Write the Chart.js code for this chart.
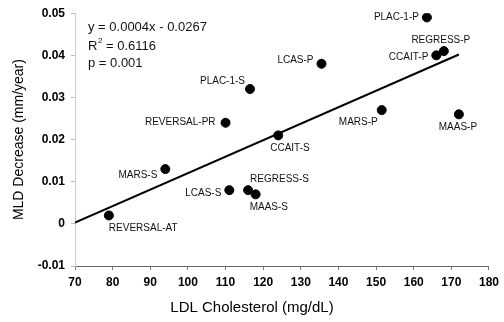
<!DOCTYPE html>
<html>
<head>
<meta charset="utf-8">
<script src="https://cdn.jsdelivr.net/npm/chart.js@4"></script>
<style>
html,body{margin:0;padding:0;background:#fff;}
#wrap{width:504px;height:322px;position:relative;}
</style>
</head>
<body>
<div id="wrap"><canvas id="c" width="504" height="322"></canvas></div>
<script>
// ---- data ----
const trialNames = ["REVERSAL-AT","MARS-S","LCAS-S","REGRESS-S","MAAS-S","CCAIT-S","REVERSAL-PR","PLAC-1-S","LCAS-P","MARS-P","PLAC-1-P","CCAIT-P","REGRESS-P","MAAS-P"];
const ldlValues = [79, 94, 111, 116, 118, 124, 110, 116.5, 135.5, 151.5, 163.5, 166, 168, 172];
const mldValues = [0.002, 0.013, 0.008, 0.008, 0.007, 0.021, 0.024, 0.032, 0.038, 0.027, 0.049, 0.040, 0.041, 0.026];
const trendX = [70, 172];
const trendY = [0.0003, 0.0402];
const xTicks = [70, 80, 90, 100, 110, 120, 130, 140, 150, 160, 170, 180];
const yTicks = [-0.01, 0, 0.01, 0.02, 0.03, 0.04, 0.05];
const equationLines = ["y = 0.0004x - 0.0267", "R2 = 0.6116", "p = 0.001"];
const xTitle = "LDL Cholesterol (mg/dL)";
const yTitle = "MLD Decrease (mm/year)";

// label placement (style): [align, dx, dy]
const labelPlacement = [
  ["left", 0, 13], ["right", -8, 6], ["right", -8, 3], ["left", 2, -11], ["left", -6, 13],
  ["left", -8, 13], ["right", -10, 0], ["right", -5, -8], ["right", -8, -4], ["right", -4, 12],
  ["right", -8, 0], ["right", -8, 2], ["center", -3, -11], ["center", -1, 13]
];

const FONT = "'Liberation Sans', Arial, Helvetica, sans-serif";

const labelPlugin = {
  id: 'pointLabels',
  afterDatasetsDraw(chart) {
    const ctx = chart.ctx;
    const meta = chart.getDatasetMeta(1);
    ctx.save();
    ctx.fillStyle = '#111';
    ctx.font = "10px " + FONT;
    ctx.textBaseline = 'middle';
    meta.data.forEach((el, i) => {
      const p = labelPlacement[i];
      ctx.textAlign = p[0];
      ctx.fillText(trialNames[i], el.x + p[1], el.y + p[2]);
    });
    // equation block
    const ca = chart.chartArea;
    ctx.textAlign = 'left';
    ctx.font = "13px " + FONT;
    const x0 = ca.left + 13;
    ctx.fillText(equationLines[0], x0, ca.top + 14);
    ctx.fillText("R", x0, ca.top + 33);
    const rw = ctx.measureText("R").width;
    ctx.font = "8px " + FONT;
    ctx.fillText("2", x0 + rw + 0.5, ca.top + 28);
    const sw = ctx.measureText("2").width;
    ctx.font = "13px " + FONT;
    ctx.fillText(" = 0.6116", x0 + rw + sw + 0.5, ca.top + 33);
    ctx.fillText(equationLines[2], x0, ca.top + 50);
    // axis titles (centered on the whole figure, as in the reference)
    ctx.fillStyle = '#000';
    ctx.textAlign = 'center';
    ctx.font = "15px " + FONT;
    ctx.fillText(xTitle, chart.width / 2, 308);
    ctx.save();
    ctx.translate(19.5, (ca.top + ca.bottom) / 2);
    ctx.rotate(-Math.PI / 2);
    ctx.font = "14px " + FONT;
    ctx.fillText(yTitle, 0, 0);
    ctx.restore();
    ctx.restore();
  }
};

new Chart(document.getElementById('c'), {
  type: 'scatter',
  data: {
    datasets: [
      {
        type: 'line',
        data: trendX.map((x, i) => ({x: x, y: trendY[i]})),
        borderColor: '#000',
        borderWidth: 2,
        pointRadius: 0,
        fill: false,
        order: 2
      },
      {
        data: ldlValues.map((x, i) => ({x: x, y: mldValues[i]})),
        backgroundColor: '#000',
        borderColor: '#000',
        pointRadius: 4.5,
        pointHoverRadius: 4.5,
        order: 1
      }
    ]
  },
  options: {
    responsive: false,
    animation: false,
    events: [],
    layout: { padding: { top: 6, right: 15, left: 0, bottom: 0 } },
    plugins: { legend: { display: false }, tooltip: { enabled: false } },
    scales: {
      x: {
        type: 'linear',
        min: 70, max: 180,
        afterBuildTicks(s) { s.ticks = xTicks.map(v => ({value: v})); },
        grid: { drawOnChartArea: false, drawTicks: true, tickLength: 4, color: '#777' },
        border: { color: '#666', width: 1 },
        ticks: { color: '#000', font: { family: FONT, size: 12, weight: 'bold' }, padding: 5, maxRotation: 0 },
        title: { display: false },
        afterFit(s) { s.height = 56; }
      },
      y: {
        type: 'linear',
        min: -0.01, max: 0.05,
        afterBuildTicks(s) { s.ticks = yTicks.map(v => ({value: v})); },
        grid: { drawOnChartArea: false, drawTicks: true, tickLength: 4, color: '#bbb' },
        border: { color: '#ccc', width: 1, dash: [2, 3] },
        ticks: {
          color: '#000', font: { family: FONT, size: 12, weight: 'bold' }, padding: 6,
          callback: v => (Math.abs(v) < 1e-9 ? '0' : String(+v.toFixed(2)))
        },
        title: { display: false },
        afterFit(s) { s.width = 75; }
      }
    }
  },
  plugins: [labelPlugin]
});
</script>
</body>
</html>
